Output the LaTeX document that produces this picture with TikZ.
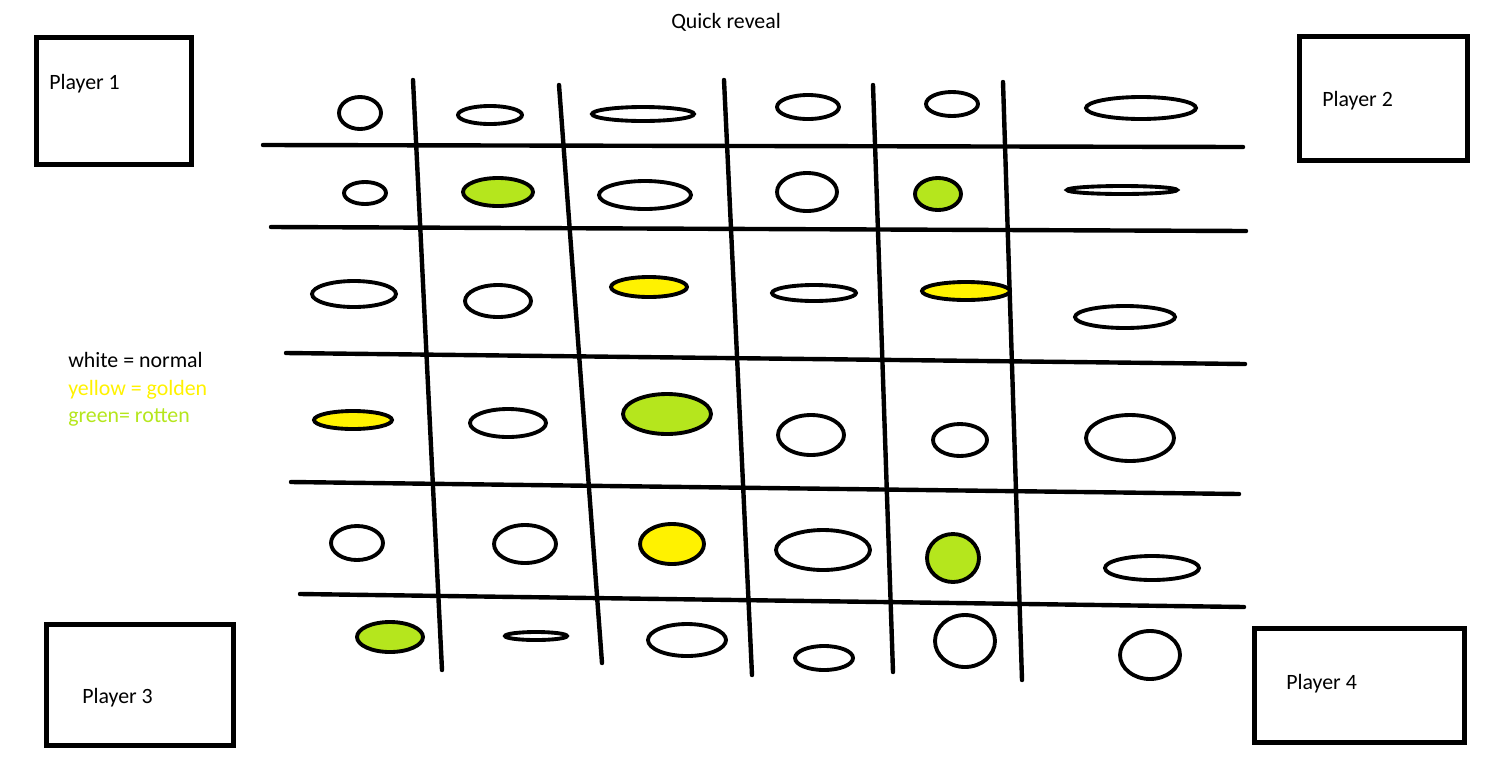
\documentclass[tikz,border=0pt]{standalone}
\usepackage{fontspec}
\setmainfont{Carlito}
\usetikzlibrary{positioning}
\definecolor{rotten}{HTML}{B5E61D}
\definecolor{golden}{HTML}{FFF200}
\tikzset{
  gridline/.style ={line width=3.3pt, line cap=round},
  egg/.style      ={draw=black, line width=2.9pt},
  playerbox/.style={rectangle, draw=black, line width=3.8pt, inner sep=0pt},
  lbl/.style      ={inner sep=0pt, anchor=base west,
                    font=\fontsize{16.4}{20}\selectfont}
}

\begin{document}
\begin{tikzpicture}[x=0.75pt, y=-0.75pt]
  \useasboundingbox (0,0) rectangle (1506,772);

  % ---------------- Title and legend ----------------
  \node[lbl]              (title)  at (671,28)  {Quick reveal};
  \node[lbl]              (normal) at (68,367)  {white = normal};
  \node[lbl, text=golden] (golden) at (68,395)  {yellow = golden};
  \node[lbl, text=rotten] (rotten) at (68,422)  {green= rotten};

  % ---------------- Players ----------------
  \node[playerbox, minimum width=116.25pt, minimum height=95.25pt] (box1) at (114,101)    {};
  \node[playerbox, minimum width=126pt,    minimum height=93pt]    (box2) at (1383.5,98.5) {};
  \node[playerbox, minimum width=140.25pt, minimum height=90.75pt] (box3) at (140,685)    {};
  \node[playerbox, minimum width=157.5pt,  minimum height=85.5pt]  (box4) at (1359.5,685.5){};
  \node[lbl] (p1) at (49,89)    {Player 1};
  \node[lbl] (p2) at (1322,106) {Player 2};
  \node[lbl] (p3) at (82,703)   {Player 3};
  \node[lbl] (p4) at (1286,689) {Player 4};

  % ---------------- Grid ----------------
  \foreach \xa/\ya/\xb/\yb in {263/145/1243/147, 271/227/1246/231, 286/353/1245/364,
                               291/482/1239/494, 300/594/1244/607}
    \draw[gridline] (\xa,\ya) -- (\xb,\yb);
  \foreach \xa/\ya/\xb/\yb in {413/80/442/670, 559/85/602/663, 724/80/752/675,
                               873/85/893/672, 1003/82/1022/680}
    \draw[gridline] (\xa,\ya) -- (\xb,\yb);

  % ---------------- Eggs ----------------
  \foreach \x/\y/\rx/\ry/\c in {
      360/113/21/16/white,  490/115/32/9/white,   643/114/51/7/white,
      808/107/31/12/white,  952/104/26/12/white,  1141/108/55/11/white,
      365/193/21/11/white,  498/192/35/14/rotten, 645/195/46/14/white,
      807/192/30/19/white,  938/194/23/16/rotten, 1122/190/55/4/white,
      354/294/42/13/white,  498/301/33/16/white,  649/287/38/10/golden,
      814/293/42/8/white,   966/291/44/9/golden,  1125/317/50/11/white,
      353/420/39/9/golden,  508/423/38/14/white,  667/414/44/20/rotten,
      811/435/33/20/white,  960/440/27/16/white,  1130/438/44/23/white,
      357/543/26/17/white,  525/544/31/19/white,  672/544/32/20/golden,
      823/550/47/20/white,  953/558/26/24/rotten, 1152/568/47/12/white,
      390/637/33/15/rotten, 536/636/31/4/white,   687/640/39/16/white,
      824/658/29/12/white,  965/641/30/26/white,  1150/655/30/24/white}
    \draw[egg, fill=\c] (\x,\y) ellipse [x radius=\rx, y radius=\ry];
\end{tikzpicture}
\end{document}
